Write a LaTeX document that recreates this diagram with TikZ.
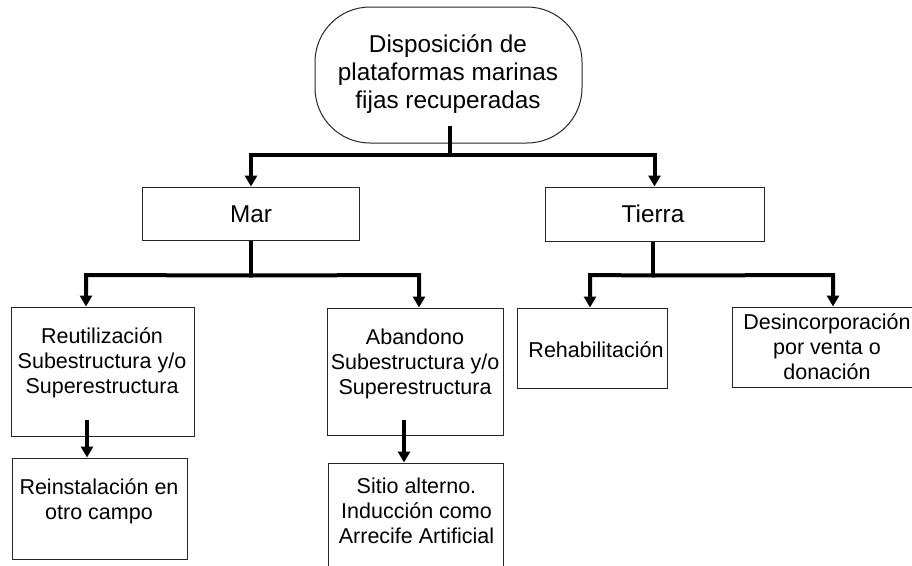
\documentclass[tikz,border=0pt]{standalone}
\usepackage{fontspec}
\setmainfont{Liberation Sans}
\usetikzlibrary{arrows.meta,calc}
\begin{document}
\begin{tikzpicture}[x=1pt,y=-1pt,
  box/.style={draw=black!85, line width=1pt, inner sep=0pt, fill=white},
  conn/.style={line width=4pt, draw=black},
  arr/.style={conn, -{Triangle[length=11pt,width=12pt]}},
  bigtxt/.style={font=\fontsize{24.3}{28}\selectfont, align=center, inner sep=0pt},
  smalltxt/.style={font=\fontsize{21.5}{25}\selectfont, align=center, inner sep=0pt}]
\useasboundingbox[fill=white] (0,0) rectangle (912,565);

% boxes
\node[box, rounded corners=55pt, minimum width=267pt, minimum height=136pt] (top) at (448.5,75) {};
\node[box, minimum width=217pt, minimum height=53pt] (mar) at (251,213.5) {};
\node[box, minimum width=219pt, minimum height=54pt] (tierra) at (654.5,214) {};
\node[box, minimum width=183pt, minimum height=129pt] (reut) at (102.5,371.5) {};
\node[box, minimum width=176pt, minimum height=127pt] (aband) at (415,371.5) {};
\node[box, minimum width=175pt, minimum height=101pt] (reinst) at (99.5,508.5) {};
\node[box, minimum width=175pt, minimum height=137pt] (sitio) at (415.5,531.5) {};
\node[box, minimum width=150pt, minimum height=80pt] (rehab) at (592,348) {};
\node[box, minimum width=190pt, minimum height=80pt] (desinc) at (827,347) {};

% texts
\node[bigtxt] (ttop) at (448,74) {Disposición de\\plataformas marinas\\fijas recuperadas};
\node[bigtxt] (tmar) at (251,214) {Mar};
\node[bigtxt] (ttierra) at (653,214) {Tierra};
\node[smalltxt] (treut) at (102,363) {Reutilización\\Subestructura y/o\\Superestructura};
\node[smalltxt] (taband) at (415,364) {Abandono\\Subestructura y/o\\Superestructura};
\node[smalltxt] (treinst) at (99,501) {Reinstalación en\\otro campo};
\node[smalltxt] (tsitio) at (416.5,511) {Sitio alterno.\\Inducción como\\Arrecife Artificial};
\node[smalltxt] (trehab) at (596,350) {Rehabilitación};
\node[smalltxt] (tdesinc) at (827,346.5) {Desincorporación\\por venta o\\donación};

% connectors
\coordinate (j0) at (450,155);
\draw[conn] ([yshift=18pt]top.south -| j0) -- (j0);
\draw[arr] (j0) -| (mar.north);
\draw[arr] (j0) -| (tierra.north);

\coordinate (j1) at ($(mar.south)+(0,35)$);
\coordinate (jr) at (86,275);
\coordinate (ja) at (419,275);
\draw[conn] (mar.south) -- (j1);
\draw[arr] (j1) -- (jr) -- (jr |- reut.north);
\draw[arr] (j1) -- (ja) -- (ja |- aband.north);

\coordinate (j2) at ($(tierra.south)+(-1.5,34)$);
\coordinate (jh) at (590,275);
\coordinate (jd) at (833,275);
\draw[conn] (tierra.south -| j2) -- (j2);
\draw[arr] (j2) -- (jh) -- (jh |- rehab.north);
\draw[arr] (j2) -- (jd) -- (jd |- desinc.north);

\coordinate (k1) at (87,420);
\draw[arr] (k1) -- (k1 |- reinst.north);
\coordinate (k2) at (404,420);
\draw[arr] (k2) -- (k2 |- sitio.north);
\end{tikzpicture}
\end{document}
